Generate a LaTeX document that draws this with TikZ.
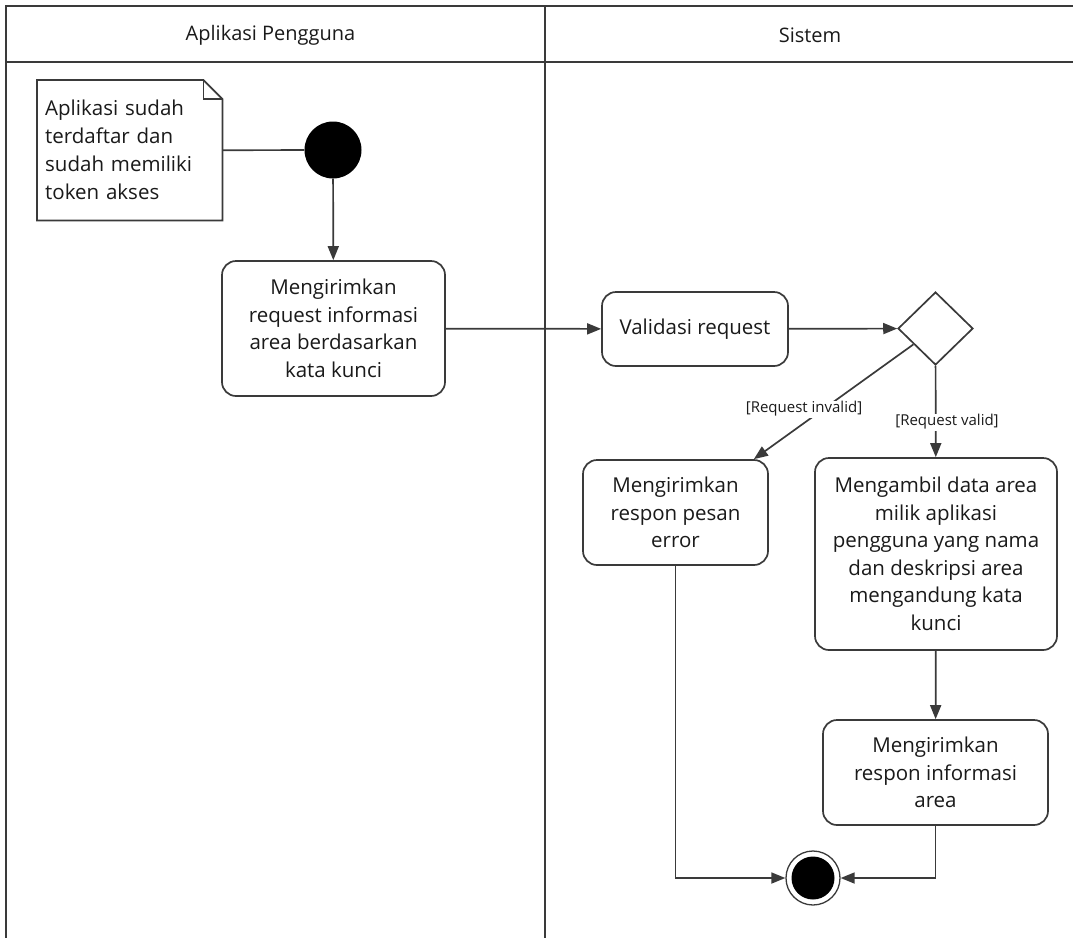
\documentclass[tikz,border=0pt]{standalone}
\usepackage{fontspec}
\setmainfont{Open Sans}
\usetikzlibrary{arrows.meta,shapes.geometric}
\definecolor{ink}{HTML}{3A3A3A}
\definecolor{txt}{HTML}{1A1A1A}
\begin{document}
\begin{tikzpicture}[x=1pt,y=-1pt,
  line/.style={draw=ink,line width=1.7pt},
  flow/.style={line,-{Triangle[length=14pt,width=11pt]}},
  action/.style={line,rounded corners=14pt,fill=white,align=center,inner sep=0pt,
    text=txt,font=\fontsize{20.5}{27.5}\selectfont},
  guard/.style={fill=white,inner sep=1pt,text=txt,font=\fontsize{15}{17}\selectfont},
  lanetitle/.style={text=txt,font=\fontsize{20}{22}\selectfont},
  lane/.style={draw=ink,line width=1.5pt},
  notetext/.style={anchor=north west,minimum width=185,minimum height=140,text width=169,
    inner xsep=8pt,inner ysep=0pt,align=left,text=txt,font=\fontsize{20.5}{28}\selectfont}
]
\useasboundingbox (0,0) rectangle (1073,938);

% swimlane frame
\draw[lane] (1073,6) -- (6,6) -- (6,938);
\draw[lane] (6,62) -- (1073,62);
\draw[lane] (545,6) -- (545,938);
\node[lanetitle] (laneA) at (270.5,35) {Aplikasi Pengguna};
\node[lanetitle] (laneB) at (810,35) {Sistem};

% note with folded corner
\node[notetext] (note) at (37,80) {};
\draw[line,fill=white] (note.north west) -- ([xshift=-19pt]note.north east)
  -- ([yshift=-19pt]note.north east) -- (note.south east) -- (note.south west) -- cycle;
\draw[line] ([xshift=-19pt]note.north east) |- ([yshift=-19pt]note.north east);
\node[notetext] (notebody) at (37,80) {Aplikasi sudah\\terdaftar dan\\sudah memiliki\\token akses};

% activity nodes
\node[circle,fill=black,minimum size=57,inner sep=0pt] (start) at (333,150) {};
\node[action,minimum width=223,minimum height=135] (req) at (333.5,328.5)
  {Mengirimkan\\request informasi\\area berdasarkan\\kata kunci};
\node[action,minimum width=186,minimum height=74] (val) at (695,329) {Validasi request};
\node[diamond,draw=ink,line width=1.7pt,fill=white,minimum width=75,minimum height=73,
  inner sep=0pt] (dec) at (935.5,328.5) {};
\node[action,minimum width=185,minimum height=105] (err) at (675.5,512.5)
  {Mengirimkan\\respon pesan\\error};
\node[action,minimum width=242,minimum height=192] (fetch) at (936,554)
  {Mengambil data area\\milik aplikasi\\pengguna yang nama\\dan deskripsi area\\mengandung kata\\kunci};
\node[action,minimum width=225,minimum height=105] (resp) at (935.5,772.5)
  {Mengirimkan\\respon informasi\\area};
\node[circle,draw=ink,line width=1.3pt,fill=white,minimum size=54,inner sep=0pt,
  path picture={\fill[black] (path picture bounding box.center) circle (21.5pt);}]
  (end) at (813,878) {};

% connectors
\draw[line] (note.east) -- (start);
\draw[flow] (start) -- (req);
\draw[flow] (req) -- (val);
\draw[flow] (val) -- (dec);
\coordinate (errin) at ([xshift=-15pt]err.north east);
\draw[flow] (dec) -- (errin);
\node[guard] (ginv) at (804,409) {[Request invalid]};
\draw[flow] (dec) -- (fetch);
\node[guard] (gval) at (947,422) {[Request valid]};
\draw[flow] (fetch) -- (resp);
\draw[flow] (err.south) |- (end);
\draw[flow] (resp.south) |- (end);
\end{tikzpicture}
\end{document}
